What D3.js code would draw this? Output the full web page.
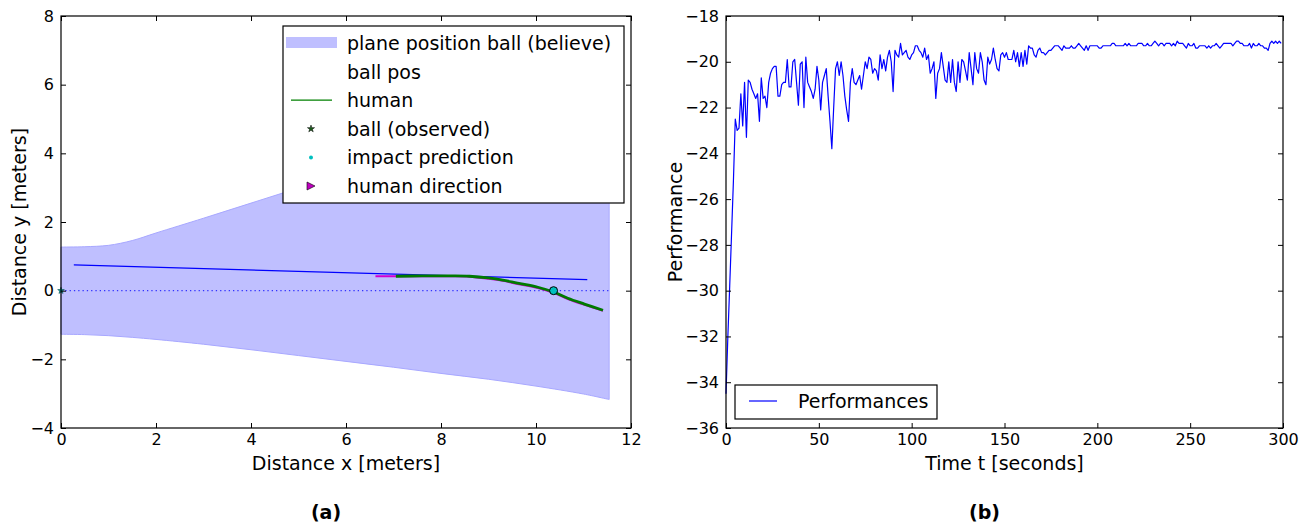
<!DOCTYPE html>
<html>
<head>
<meta charset="utf-8">
<script src="https://cdn.jsdelivr.net/npm/d3@7"></script>
<style>
body { margin: 0; background: #fff; }
text { font-family: "DejaVu Sans", sans-serif; fill: #000; }
.tick line { stroke: #000; stroke-width: 1; }
.frame { fill: none; stroke: #000; stroke-width: 1.2; }
</style>
</head>
<body>
<svg id="chart" width="1312" height="529"></svg>
<script>

// ---- panel (a) data ----
var ticksAx = [0, 2, 4, 6, 8, 10, 12];
var ticksAy = [-4, -2, 0, 2, 4, 6, 8];

var bandX     = [0, 0.5, 1, 1.5, 2, 3, 4, 5, 6, 7, 8, 9, 10, 11, 11.54];
var bandUpper = [1.27, 1.28, 1.32, 1.46, 1.68, 2.11, 2.55, 2.99, 3.42, 3.85, 4.28, 4.7, 5.12, 5.55, 5.78];
var bandLower = [-1.27, -1.28, -1.31, -1.36, -1.42, -1.56, -1.72, -1.89, -2.06, -2.23, -2.41, -2.58, -2.78, -3.01, -3.17];

var blueX = [0.27, 11.08];
var blueY = [0.75, 0.32];

var humanX = [7.05, 7.6, 8.2, 8.6, 9.0, 9.3, 9.61, 10.04, 10.37, 10.67, 11.02, 11.41];
var humanY = [0.42, 0.43, 0.43, 0.42, 0.37, 0.31, 0.22, 0.10, -0.04, -0.22, -0.39, -0.57];

var dirX = [6.62, 7.05, 7.6, 8.2, 8.6, 9.0, 9.3, 9.61, 10.04, 10.37, 10.67, 11.02, 11.41];
var dirY = [0.42, 0.42, 0.42, 0.42, 0.41, 0.35, 0.29, 0.20, 0.08, -0.06, -0.24, -0.41, -0.58];

var impact = [10.37, 0];
var observed = [0, 0];

var legendA = ["plane position ball (believe)", "ball pos", "human", "ball (observed)", "impact prediction", "human direction"];

// ---- panel (b) data: one value per second, t = 0..299 ----
var ticksBx = [0, 50, 100, 150, 200, 250, 300];
var ticksBy = [-36, -34, -32, -30, -28, -26, -24, -22, -20, -18];

var perf = [
  -34.5, -32.0, -29.8, -27.5, -25.2, -22.5, -23.0, -22.9, -21.4, -22.8,
  -20.9, -23.3, -20.8, -20.9, -21.2, -21.4, -21.6, -21.4, -22.6, -20.7,
  -21.6, -21.5, -22.0, -20.9, -20.5, -20.3, -20.2, -20.2, -21.5, -21.5,
  -21.0, -20.9, -20.9, -19.9, -21.1, -21.1, -20.0, -19.9, -20.9, -21.9,
  -20.1, -20.0, -22.0, -19.8, -20.9, -21.1, -21.3, -21.6, -21.2, -20.2,
  -20.8, -22.1, -20.9, -20.6, -20.3, -21.5, -22.6, -23.8, -22.0, -20.3,
  -20.0, -20.6, -20.0, -20.6, -21.5, -22.1, -22.6, -20.9, -20.3, -20.9,
  -21.0, -20.8, -20.6, -21.2, -20.6, -20.0, -20.3, -19.8, -19.9, -20.5,
  -20.3, -20.4, -20.8, -19.7, -20.3, -19.9, -20.4, -19.8, -19.5, -20.0,
  -21.3, -19.5, -19.7, -19.8, -19.2, -19.7, -19.6, -19.5, -19.8, -19.9,
  -19.7, -19.6, -19.3, -19.3, -19.5, -19.6, -19.8, -19.4, -19.9, -19.7,
  -20.5, -20.3, -20.0, -21.6, -20.5, -20.3, -19.6, -20.2, -20.8, -20.9,
  -20.0, -20.9, -19.9, -20.9, -21.3, -20.0, -20.9, -19.9, -20.0, -20.4,
  -20.8, -19.6, -20.3, -21.0, -19.6, -20.3, -20.5, -19.6, -20.0, -20.8,
  -21.0, -19.8, -20.1, -19.9, -19.4, -19.9, -20.3, -20.4, -19.7, -19.6,
  -19.8, -19.6, -19.9, -19.9, -19.9, -19.5, -20.0, -19.6, -20.2, -19.6,
  -20.2, -19.5, -20.1, -19.3, -19.4, -19.4, -19.7, -19.8, -19.5, -19.4,
  -19.6, -19.6, -19.7, -19.6, -19.5, -19.5, -19.4, -19.3, -19.3, -19.3,
  -19.4, -19.5, -19.3, -19.4, -19.4, -19.4, -19.3, -19.4, -19.4, -19.3,
  -19.2, -19.3, -19.4, -19.5, -19.3, -19.5, -19.3, -19.3, -19.3, -19.3,
  -19.3, -19.4, -19.4, -19.3, -19.3, -19.3, -19.3, -19.3, -19.2, -19.2,
  -19.3, -19.3, -19.3, -19.3, -19.3, -19.2, -19.3, -19.2, -19.3, -19.3,
  -19.3, -19.3, -19.2, -19.2, -19.2, -19.3, -19.3, -19.2, -19.3, -19.3,
  -19.2, -19.1, -19.2, -19.3, -19.2, -19.2, -19.3, -19.2, -19.2, -19.2,
  -19.3, -19.2, -19.3, -19.1, -19.2, -19.2, -19.2, -19.3, -19.4, -19.2,
  -19.3, -19.3, -19.2, -19.4, -19.4, -19.3, -19.3, -19.3, -19.3, -19.4,
  -19.3, -19.4, -19.3, -19.3, -19.2, -19.3, -19.4, -19.3, -19.2, -19.2,
  -19.2, -19.2, -19.2, -19.3, -19.2, -19.1, -19.1, -19.2, -19.2, -19.3,
  -19.3, -19.3, -19.2, -19.4, -19.2, -19.3, -19.3, -19.2, -19.3, -19.3,
  -19.4, -19.4, -19.5, -19.2, -19.1, -19.2, -19.1, -19.2, -19.1, -19.2
];

var svg = d3.select("#chart");
var fmt = d3.format("");

function frame(g, x, y, w, h, tx, ty, labelX, labelY, tag) {
    g.append("g")
        .attr("transform", "translate(0," + h + ")")
        .call(d3.axisBottom(x).tickValues(tx).tickFormat(fmt).tickSize(-5).tickPadding(6))
        .call(function(s) { s.select(".domain").remove(); s.selectAll("text").attr("font-size", 16).attr("font-family", "DejaVu Sans"); });
    g.append("g")
        .call(d3.axisTop(x).tickValues(tx).tickSize(-5).tickFormat(""))
        .call(function(s) { s.select(".domain").remove(); });
    g.append("g")
        .call(d3.axisLeft(y).tickValues(ty).tickFormat(fmt).tickSize(-5).tickPadding(7))
        .call(function(s) { s.select(".domain").remove(); s.selectAll("text").attr("font-size", 16).attr("font-family", "DejaVu Sans"); });
    g.append("g")
        .attr("transform", "translate(" + w + ",0)")
        .call(d3.axisRight(y).tickValues(ty).tickSize(-5).tickFormat(""))
        .call(function(s) { s.select(".domain").remove(); });
    g.append("rect").attr("class", "frame")
        .attr("width", w).attr("height", h);

    g.append("text")
        .attr("x", w / 2).attr("y", h + 42)
        .attr("text-anchor", "middle")
        .attr("font-size", 19)
        .text(labelX);
    g.append("text")
        .attr("transform", "translate(" + (labelY.dx) + "," + (h / 2) + ") rotate(-90)")
        .attr("text-anchor", "middle")
        .attr("font-size", 19)
        .text(labelY.text);
    g.append("text")
        .attr("x", w / 2 - 20).attr("y", h + 91)
        .attr("text-anchor", "middle")
        .attr("font-size", 19)
        .attr("font-weight", "bold")
        .text(tag);
}

// ---- panel (a) ----
var wA = 570, hA = 412;
var gA = svg.append("g").attr("transform", "translate(61,16)");
var xA = d3.scaleLinear().domain([0, 12]).range([0, wA]);
var yA = d3.scaleLinear().domain([-4, 8]).range([hA, 0]);

var band = bandX.map(function(d, i) { return [d, bandLower[i], bandUpper[i]]; });
gA.append("path")
    .datum(band)
    .attr("fill", "#bfbfff")
    .attr("stroke", "#a8a8ff")
    .attr("stroke-width", 1)
    .attr("d", d3.area().curve(d3.curveCatmullRom)
        .x(function(d) { return xA(d[0]); })
        .y0(function(d) { return yA(d[1]); })
        .y1(function(d) { return yA(d[2]); }));

gA.append("path")
    .datum([[0, 0], [bandX[bandX.length - 1], 0]])
    .attr("fill", "none")
    .attr("stroke", "#3333ff")
    .attr("stroke-width", 1.2)
    .attr("stroke-dasharray", "1.3,3")
    .attr("d", d3.line().x(function(d) { return xA(d[0]); }).y(function(d) { return yA(d[1]); }));

var lineA = d3.line().curve(d3.curveCatmullRom)
    .x(function(d) { return xA(d[0]); })
    .y(function(d) { return yA(d[1]); });

gA.append("path")
    .datum(blueX.map(function(d, i) { return [d, blueY[i]]; }))
    .attr("fill", "none").attr("stroke", "#0000ff").attr("stroke-width", 1.3)
    .attr("d", lineA);

gA.append("path")
    .datum(dirX.map(function(d, i) { return [d, dirY[i]]; }))
    .attr("fill", "none").attr("stroke", "#d000d0").attr("stroke-width", 2.2)
    .attr("d", lineA);

gA.append("path")
    .datum(humanX.map(function(d, i) { return [d, humanY[i]]; }))
    .attr("fill", "none").attr("stroke", "#007a00").attr("stroke-width", 2.8)
    .attr("d", lineA);

gA.append("circle")
    .attr("cx", xA(impact[0])).attr("cy", yA(impact[1])).attr("r", 4)
    .attr("fill", "#00bfbf").attr("stroke", "#000").attr("stroke-width", 1);

gA.append("path")
    .attr("transform", "translate(" + xA(observed[0]) + "," + yA(observed[1]) + ")")
    .attr("d", d3.symbol().type(d3.symbolStar).size(14))
    .attr("fill", "#00a0a0").attr("stroke", "#004040").attr("stroke-width", 0.5);

frame(gA, xA, yA, wA, hA, ticksAx, ticksAy, "Distance x [meters]", {text: "Distance y [meters]", dx: -35}, "(a)");

// legend (a)
var legA = gA.append("g").attr("transform", "translate(222,10)");
legA.append("rect").attr("width", 341).attr("height", 177)
    .attr("fill", "#fff").attr("stroke", "#000").attr("stroke-width", 1.2);
legendA.forEach(function(label, i) {
    var cy = 17 + i * 28.6;
    legA.append("text").attr("x", 64).attr("y", cy + 7)
        .attr("font-size", 19).text(label);
    if (i === 0) {
        legA.append("rect").attr("x", 3).attr("y", cy - 6).attr("width", 51).attr("height", 11)
            .attr("fill", "#bfbfff");
    } else if (i === 2) {
        legA.append("line").attr("x1", 8).attr("x2", 49).attr("y1", cy).attr("y2", cy)
            .attr("stroke", "#008000").attr("stroke-width", 1.3);
    } else if (i === 3) {
        legA.append("path").attr("transform", "translate(28," + cy + ")")
            .attr("d", d3.symbol().type(d3.symbolStar).size(16))
            .attr("fill", "#1a5a1a").attr("stroke", "#000").attr("stroke-width", 0.5);
    } else if (i === 4) {
        legA.append("circle").attr("cx", 28).attr("cy", cy).attr("r", 2)
            .attr("fill", "#00bfbf");
    } else if (i === 5) {
        legA.append("path").attr("d", "M24," + (cy - 4) + "L32," + cy + "L24," + (cy + 4) + "Z")
            .attr("fill", "#bf00bf").attr("stroke", "#000").attr("stroke-width", 0.6);
    }
});

// ---- panel (b) ----
var wB = 557, hB = 412;
var gB = svg.append("g").attr("transform", "translate(726,16)");
var xB = d3.scaleLinear().domain([0, 300]).range([0, wB]);
var yB = d3.scaleLinear().domain([-36, -18]).range([hB, 0]);

gB.append("path")
    .datum(perf)
    .attr("fill", "none").attr("stroke", "#0000ff").attr("stroke-width", 1.2)
    .attr("stroke-linejoin", "round")
    .attr("d", d3.line()
        .x(function(d, i) { return xB(i); })
        .y(function(d) { return yB(d); }));

frame(gB, xB, yB, wB, hB, ticksBx, ticksBy, "Time t [seconds]", {text: "Performance", dx: -44}, "(b)");

var legB = gB.append("g").attr("transform", "translate(9,369)");
legB.append("rect").attr("width", 202).attr("height", 34)
    .attr("fill", "#fff").attr("stroke", "#000").attr("stroke-width", 1.2);
legB.append("line").attr("x1", 14).attr("x2", 42).attr("y1", 16).attr("y2", 16)
    .attr("stroke", "#0000ff").attr("stroke-width", 1.2);
legB.append("text").attr("x", 63).attr("y", 23).attr("font-size", 19).text("Performances");

</script>
</body>
</html>
